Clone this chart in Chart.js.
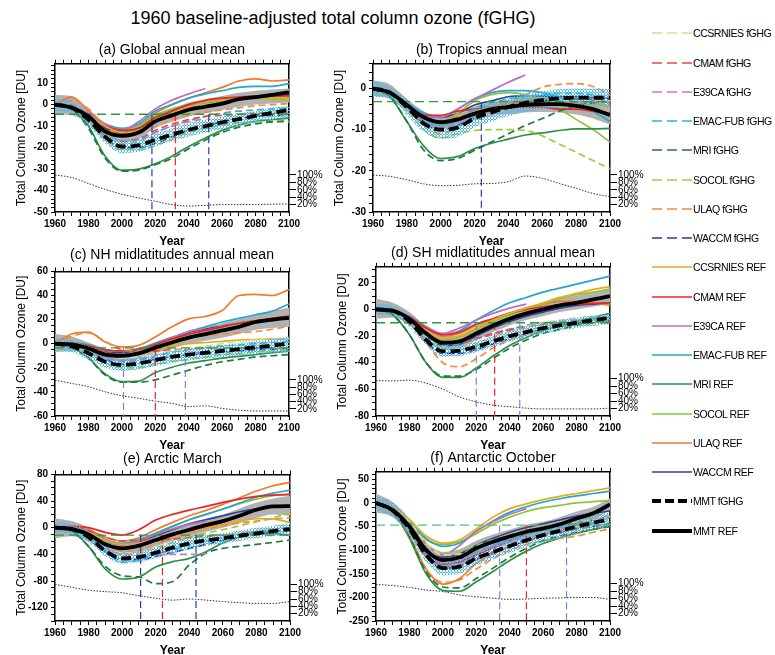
<!DOCTYPE html>
<html>
<head>
<meta charset="utf-8">
<title>1960 baseline-adjusted total column ozone (fGHG)</title>
<script src="https://cdn.jsdelivr.net/npm/chart.js@4.4.1/dist/chart.umd.min.js"></script>
<style>
  html, body { margin: 0; padding: 0; background: #fff; }
  body { width: 775px; height: 655px; overflow: hidden; position: relative; font-family: "Liberation Sans", Arial, sans-serif; }
  #wrap { position: absolute; left: 0; top: 0; width: 775px; height: 655px; }
  #wrap canvas { position: absolute; }
  #title { position: absolute; left: 0; top: 7px; width: 666px; text-align: center; font-size: 18px; line-height: 22px; color: #000; }
  .leg { position: absolute; left: 652px; width: 123px; height: 14px; font-size: 10.5px; line-height: 14px; letter-spacing: -0.45px; white-space: nowrap; color: #000; }
  .leg svg { position: absolute; left: 0; top: 0; }
  .leg span { position: absolute; left: 41px; top: 0; }
</style>
</head>
<body>
<div id="wrap"><div id="title">1960 baseline-adjusted total column ozone (fGHG)</div></div>
<div id="legend"></div>
<script>
const years = [1960, 1970, 1980, 1990, 2000, 2010, 2020, 2030, 2040, 2050, 2060, 2070, 2080, 2090, 2100];
const models = ["CCSRNIES", "CMAM", "E39CA", "EMAC-FUB", "MRI", "SOCOL", "ULAQ", "WACCM"];
const fghgColors = ["#ecd48a", "#e8484a", "#c57ac6", "#2cb2d8", "#1f7a3c", "#9ccc3c", "#f58a3c", "#2a3d8f"];
const refColors = ["#e2ad1c", "#e8262a", "#c06cc0", "#26a6cc", "#2e9048", "#8cc43a", "#f07a2a", "#2f4390"];
const pctTicks = [20, 40, 60, 80, 100];
const _ = null;

// (a) Global annual mean
const aFghg = [
  [0, -1, -6, -13, -18, -18, -16, -13, -11, -9, -7, -5.5, -4.5, -3.5, -3],
  [0, -1, -7, -14, -17, -16, -12, -9, -7, -5.5, -5, -4.5, -4, -4, -4],
  [0, -1, -6, -13, -17, -16, -13, -10, -8, -6.5, _, _, _, _, _],
  [0, -1, -7, -14, -18, -17, -13, -10, -7.5, -5.5, -4, -3, -2.5, -2, -1.5],
  [0, -2, -11, -25, -31, -30.5, -28, -25, -20.5, -16.5, -13, -10.5, -9, -8, -7.5],
  [0, -1.5, -8, -16, -21, -21, -19, -16, -13, -11, -9.5, -8.5, -8, -8, -8],
  [0, 2, -2, -10, -14, -13, -10, -7, -5, -3.5, -2.5, -1.5, -0.5, 0, 0.5],
  [0, -1.5, -8, -16, -20, -20, -18, -15, -12, -10, -8, -6.5, -5.5, -5, -4.5]
];
const aRef = [
  [0, -1, -5, -10, -13, -12, -7, -4, -1, 1, 2, 2.5, 3, 3, 3],
  [0, -0.5, -6, -10, -12, -11, -6, -3, 0, 2, 3, 3.5, 4, 4, 4],
  [0, -1, -4, -9, -12, -8, -2, 2, 5, 7.5, _, _, _, _, _],
  [0, -1, -5, -9, -11, -9, -3, 0, 3, 5, 6.5, 8, 8.5, 8.5, 9.8],
  [0, -1.8, -10, -24, -30.5, -30, -27.5, -24, -19.5, -15.5, -12, -9.5, -7.8, -7, -6.3],
  [0, -1, -5, -10, -12, -10, -5, -2, 0, 1.5, 2.5, 3, 3, 2.5, 2],
  [0, 3.5, -3, -9, -11.5, -10, -4, 0, 3, 5.5, 8, 11, 12, 11, 11.5],
  [0, -1.5, -6, -11, -13, -11, -7, -3, 0, 1, 2, 3, 3.5, 4, 4.5]
];
const aMmtFghg = [0, -1.5, -7, -15, -19.5, -19, -16.4, -14, -11.7, -10, -8.3, -6.8, -5.2, -3.8, -2.4];
const aMmtRef = [0, -1.5, -5.5, -12.5, -14.5, -13, -7.8, -5, -2.4, -1, 0.5, 2.5, 3.5, 4.5, 5.7];
const aGreyLo = [-4.5, -5, -8.5, -15.5, -17.5, -16, -11, -8, -5.5, -4, -2.5, -1, 0, 0.5, 1];
const aGreyHi = [4.5, 4, -2, -9, -11.5, -10, -4.5, -2, 1, 2.5, 4, 5.5, 6.5, 7, 7.5];
const aDotLo = [-3, -4, -10, -18, -22.5, -22, -19.5, -17, -15, -13, -11.5, -10, -8.5, -7, -6];
const aDotHi = [3, 1.5, -4, -12, -16.5, -16, -13.5, -11, -8.5, -7, -5.5, -4, -3, -1.5, -0.5];
const aPct = [100, 93, 77, 61, 48, 38, 29, 20, 16, 18, 20, 20, 20, 21, 22];
const aBase = -4.5;
const aReturn = [2018, 2032, 2052];

// (b) Tropics annual mean
const bFghg = [
  [0, -1, -5, -9, -10.5, -9.5, -7.5, -6, -5, -4, -3.5, -3, -3, -3, -3],
  [0, -1, -4.5, -7.5, -8, -7, -6, -5, -4.5, -4, -3.5, -3.3, -3.2, -3.2, -3.2],
  [0, -1, -4.5, -8, -9.5, -8.5, -6.5, -5, -4, -3, _, _, _, _, _],
  [0, -1, -4, -7.5, -9, -7.5, -5, -3.5, -2.5, -2, -1.5, -1.2, -1.2, -1.5, -2],
  [0, -2, -8, -15, -17.5, -17, -15, -13, -11, -9, -7.3, -5.5, -4.2, -3.5, -3.2],
  [0, -1, -5, -10, -12, -11, -10.2, -10, -10, -10.2, -11.5, -13.5, -15.5, -17.5, -19.5],
  [0, -1, -5, -9, -11, -9.5, -7.5, -5.5, -3.5, -1.5, 0.3, 1, 1.2, 0.5, -1.6],
  [0, -1, -4.5, -8.5, -10, -9, -7, -5.5, -4.2, -3.5, -3, -2.7, -2.5, -2.5, -2.5]
];
const bRef = [
  [0, -1, -4, -7, -8, -7, -5.5, -4.5, -4, -3.5, -3.5, -3.5, -3.7, -4, -4.5],
  [0, -1, -4, -6.5, -6.5, -5.5, -5, -4.5, -4.5, -4.5, -4.5, -5, -5, -5.5, -6],
  [0, -1, -4, -6.5, -7, -5, -2.5, -0.5, 1.5, 3.3, _, _, _, _, _],
  [0, -1, -3.5, -6, -7, -5, -2.5, -1, -0.5, -0.5, -1, -2, -3.5, -5.5, -8],
  [0, -2, -8, -14, -17, -16.5, -14.6, -13.3, -12.3, -11.3, -10.8, -10.2, -9.8, -9.8, -9.7],
  [0, -1, -4, -7, -8, -6, -3, -1.5, -1, -1.5, -3, -5, -7.5, -10, -13],
  [0, -1, -4.5, -8, -9, -8, -6, -4.5, -3.5, -3, -2.5, -2.3, -2.3, -2.5, -3.5],
  [0, -1, -4, -6.5, -7, -6, -4, -3, -2, -1.8, -1.8, -2, -2, -2.2, -2.4]
];
const bMmtFghg = [0, -1, -4.5, -8.5, -10, -9.5, -7.2, -5.8, -4.5, -3.5, -2.8, -2.4, -2.2, -2.2, -2.3];
const bMmtRef = [0, -1, -4, -7, -8.2, -7.5, -6.1, -5, -4.5, -4, -3.8, -3.8, -4.2, -5, -6.5];
const bGreyLo = [-1.8, -2.5, -5.5, -8.5, -9.8, -9.2, -7.8, -6.7, -6.2, -5.8, -5.7, -5.8, -6.3, -7.3, -8.8];
const bGreyHi = [2, 1, -2.5, -5.5, -6.6, -5.8, -4.4, -3.3, -2.8, -2.2, -1.9, -1.8, -2.1, -2.7, -4.2];
const bDotLo = [-2, -2.5, -6.5, -10.5, -12.2, -11.7, -9.4, -8, -6.7, -5.7, -5, -4.6, -4.4, -4.4, -4.5];
const bDotHi = [2, 0.5, -2.5, -6.5, -7.8, -7.3, -5, -3.6, -2.3, -1.3, -0.6, -0.2, 0, 0, -0.1];
const bPct = [100, 96, 87, 76, 71, 72, 76, 77, 82, 97, 91, 77, 64, 50, 41];
const bBase = -3.2;
const bReturn = [2024];

// (c) NH midlatitudes annual mean
const cFghg = [
  [0, -1, -5, -10, -12, -11, -8, -6, -4, -2, 0, 2, 3, 4, 4.5],
  [0, 0, -3, -7, -9, -8, -6, -5, -4.5, -4, -4, -4, -4, -4, -4],
  [0, -1, -5, -11, -15, -14, -12, -10, -8, -7, _, _, _, _, _],
  [0, -1, -5, -11, -14, -13, -10, -7, -5, -3, -2, -1, 0, 1, 2],
  [0, -3, -12, -26, -32, -32, -30, -26, -22, -18, -15, -13, -11, -10, -9],
  [0, -2, -8, -16, -20, -20, -17, -15, -13, -11, -9, -8, -7, -6, -5],
  [0, 6, 9, 2, -5, -6, -2, 2, 5, 7, 8, 9, 10, 12, 14.5],
  [0, -1, -6, -13, -17, -16, -13, -11, -9, -8, -7, -6, -5, -4.5, -4]
];
const cRef = [
  [0, -1, -4, -8, -9, -8, -5, -2, 0, 1, 2, 3, 3.5, 4, 4],
  [0, 0, -2, -5, -6, -5, -1, 4, 8, 11, 14, 17, 19, 21, 23],
  [0, -1, -4, -8, -9, -6, -1, 5, 10, 13, _, _, _, _, _],
  [0, 1, -1, -5, -6, -4, 0, 5, 10, 14, 18, 21, 24, 27, 33],
  [0, -3, -12, -25, -31.5, -31, -24, -19.5, -16, -14, -12, -10.5, -9, -7.5, -6],
  [0, -1, -5, -9, -10, -8, -3, 3, 8, 11, 14, 17, 19, 20, 21],
  [0, 8, 9.6, 1.4, -2.7, -1.4, 5.5, 14, 20.6, 22.6, 27.5, 40, 41, 40, 45],
  [0, -0.5, -3, -7, -7.5, -5, 0, 5, 9, 12, 14.5, 17, 19, 20, 22]
];
const cMmtFghg = [0, -2, -8, -15, -17.5, -16.5, -13.5, -11, -9, -7.5, -6, -4.5, -3, -1.5, 0];
const cMmtRef = [0, -0.5, -4, -9, -10, -8, -3.3, 1, 5, 8, 11, 14, 18, 20, 21.5];
const cGreyLo = [-7, -6, -9, -14, -14.5, -12.5, -8, -4, 0, 2.5, 5, 8, 11.5, 13, 14];
const cGreyHi = [8, 6, 1, -4, -5.5, -3.5, 1.5, 6, 10, 13.5, 17, 20, 24, 27, 30];
const cDotLo = [-6, -7, -13, -20, -22.5, -21.5, -18.5, -16, -14, -12.5, -11, -10, -9, -8, -7.5];
const cDotHi = [5, 3, -3, -10, -12.5, -11.5, -8.5, -6, -4, -2.5, -1, 0.5, 2, 4, 6];
const cPct = [99, 90, 81, 67, 56, 49, 41, 35, 26, 28, 21, 16, 14, 14, 14];
const cBase = -3.5;
const cReturn = [2001, 2020, 2038];

// (d) SH midlatitudes annual mean
const dFghg = [
  [0, -1, -8, -20, -28, -28, -25, -21, -17, -13, -10, -8, -6.5, -5.5, -5],
  [0, -1, -7, -18, -25, -25, -22, -18, -15, -13, -11, -10, -9.5, -9, -9],
  [0, -1, -7, -18, -26, -25, -22, -19, -16, -14, _, _, _, _, _],
  [0, -1, -7, -18, -27, -26, -22, -18, -15, -12, -10, -9, -8, -7, -6],
  [0, -4, -19, -40, -50, -50, -45, -37, -29, -23, -18, -15, -12, -10, -8],
  [0, -1, -8, -21, -30, -30, -27, -23, -19, -16, -13, -11, -9, -8, -7],
  [0, 0, -9, -25, -40, -43, -37, -29, -23, -19, -15, -13, -11.5, -10, -9],
  [0, -1, -9, -24, -33, -33, -30, -26, -22, -18, -15, -12.5, -10.5, -9, -8]
];
const dRef = [
  [0, -1, -7, -16, -22, -20, -14, -8, -3, 1, 5, 9, 12, 15, 17],
  [0, -1, -6, -14, -19, -17, -11, -7, -3, 0, 2, 3.5, 4, 4.5, 5],
  [0, -1, -5, -13, -18, -14, -8, -3, 1, 4, _, _, _, _, _],
  [0, -1, -5, -13, -19, -16, -8, -1, 5, 9, 13, 16, 19, 22, 25],
  [0, -4, -19, -40, -51, -51, -44, -35, -27, -21, -16, -12, -9, -6, -3],
  [0, -1, -6, -16, -23, -21, -15, -9, -4, 0, 4, 8, 11, 13, 15],
  [0, 0, -6, -14, -20, -18, -12, -7, -3, 1, 4, 6, 6, 5, 3],
  [0, -1, -8, -20, -27, -26, -20, -14, -9, -5, -2, 1, 3, 4, 5]
];
const dMmtFghg = [0, -1, -9, -23, -31.5, -31, -28, -24, -20, -17, -14, -12, -10, -8, -6.4];
const dMmtRef = [0, -1, -7, -18, -25, -24, -18, -12, -7, -3, 0, 3, 5, 7.5, 10];
const dGreyLo = [-7, -6, -12, -23, -30, -29, -23, -17, -12, -8, -5, -2, 0, 2, 4];
const dGreyHi = [8, 5, -2, -13, -20, -19, -13, -7, -2, 2, 5, 8, 10.5, 13, 16];
const dDotLo = [-4, -5, -13, -27, -35.5, -35, -32, -28, -24, -21, -18, -16, -14, -12.5, -11];
const dDotHi = [4, 3, -5, -19, -27.5, -27, -24, -20, -16, -13, -10, -8, -6, -4.5, -3];
const dPct = [95, 94, 96, 88, 72, 51, 38, 29, 25, 21, 19, 19, 19, 19, 21];
const dBase = -10;
const dReturn = [2020, 2031, 2046];

// (e) Arctic March
const eFghg = [
  [0, -1, -9, -26, -38, -37, -32, -27, -22, -17, -12, -8, -4, -1, 1],
  [0, 1, -4, -14, -20, -18, -18, -17, -15, -13, -11, -9, -7, -6, -5],
  [0, -1, -10, -28, -40, -40, -40, -40, -40, -39, _, _, _, _, _],
  [0, -1, -12, -35, -52, -48, -40, -33, -26, -20, -15, -10, -6, -3, 0],
  [0, -5, -28, -58, -72, -74, -84, -81, -56, -38, -31, -28, -25, -22, -18.5],
  [0, -1, -10, -28, -40, -38, -30, -22, -14, -8, -3, 3, 9, 15, 22],
  [0, 0, -8, -25, -36, -34, -25, -16, -8, -2, 3, 7, 10, 13, 15],
  [0, -2, -14, -36, -48, -48, -43, -37, -31, -25, -19, -14, -10, -6, -3]
];
const eRef = [
  [0, -1, -7, -19, -25, -23, -17, -11, -5, 0, 5, 10, 13.5, 13, 8],
  [0, 2, 0, -7, -11, -3, 11.5, 20, 26.5, 32, 38, 43, 47, 49, 50],
  [0, -1, -8, -20, -26, -20, -10, -2, 5, 10, _, _, _, _, _],
  [0, -1, -6, -18, -24, -18, -8, 2, 12, 20, 28, 37, 46, 52, 56],
  [0, -5, -28, -62, -77, -74, -59, -51, -46, -36, -23, -14, -8.5, -9, -11],
  [0, -1, -6, -18, -25, -20, -9, 2, 12, 20, 28, 36, 43, 48, 50],
  [0, 0, -4, -14, -20, -15, -3, 8, 18, 26, 35, 45, 55, 63, 68],
  [0, -1, -8, -20, -25, -21, -12, -3, 6, 12, 18, 24, 28, 32, 33]
];
const eMmtFghg = [0, -2, -14, -35, -46, -44, -37.5, -30, -23.5, -19, -16, -12, -8.5, -5, -2];
const eMmtRef = [0, -2, -10, -25, -31, -27, -18.5, -10, -3, 4, 10, 18, 27, 32, 32.5];
const eGreyLo = [-16, -13, -20, -35, -40, -37, -28, -20, -13, -6, 0, 7, 15, 20, 18];
const eGreyHi = [14, 10, 0, -15, -22, -17, -9, 0, 7, 14, 20, 29, 38, 44, 48];
const eDotLo = [-8, -10, -22, -43, -54, -52, -46, -39, -32, -27, -24, -20, -16, -13, -12];
const eDotHi = [8, 6, -6, -27, -38, -36, -29, -21, -15, -11, -8, -4, 0, 3, 8];
const ePct = [100, 92, 84, 80, 77, 69, 62, 57, 60, 57, 53, 50, 48, 48, 53];
const eBase = -11;
const eReturn = [2011, 2024, 2044];

// (f) Antarctic October
const fFghg = [
  [0, -12, -40, -85, -110, -108, -95, -82, -70, -60, -52, -46, -40, -35, -30],
  [0, -15, -55, -112, -135, -132, -118, -105, -92, -80, -70, -62, -55, -50, -45],
  [0, -13, -48, -100, -125, -120, -105, -92, -80, -70, _, _, _, _, _],
  [0, -13, -45, -95, -120, -118, -104, -90, -78, -66, -58, -52, -46, -42, -38],
  [0, -18, -72, -145, -178, -180, -160, -138, -115, -96, -80, -70, -62, -56, -50],
  [0, -12, -42, -88, -105, -102, -90, -78, -68, -58, -50, -45, -40, -36, -32],
  [0, -20, -72, -140, -168, -163, -140, -118, -100, -88, -80, -75, -70, -62, -55],
  [0, -15, -52, -110, -138, -136, -120, -105, -92, -80, -70, -62, -55, -49, -44]
];
const fRef = [
  [0, -10, -35, -70, -85, -78, -55, -30, -12, -2, 7, 14, 20, 26, 32],
  [0, -15, -55, -110, -130, -125, -110, -95, -80, -65, -55, -48, -42, -36, -28],
  [0, -12, -45, -88, -110, -90, -60, -40, -24, -12, _, _, _, _, _],
  [0, -12, -40, -75, -92, -85, -60, -38, -20, -8, 2, 9, 15, 20, 25],
  [0, -18, -75, -150, -185, -187, -167, -145, -122, -102, -86, -74, -64, -56, -48],
  [0, -12, -40, -78, -88, -82, -65, -45, -30, -18, -10, -5, 0, 3, 5],
  [0, -20, -70, -140, -172, -160, -128, -108, -92, -80, -68, -58, -48, -42, -30],
  [0, -15, -50, -100, -115, -108, -90, -75, -62, -52, -44, -36, -28, -22, -17]
];
const fMmtFghg = [0, -16, -55, -110, -138, -135, -117, -104, -91, -79, -68, -59, -50, -42, -35];
const fMmtRef = [0, -15, -50, -100, -121, -115, -96, -82, -71, -61, -54, -45, -33, -22, -3];
const fGreyLo = [-20, -30, -68, -118, -138, -132, -112, -97, -86, -76, -68, -60, -48, -36, -15];
const fGreyHi = [20, 2, -33, -82, -104, -98, -80, -67, -56, -46, -40, -30, -18, -8, 10];
const fDotLo = [-15, -30, -70, -125, -153, -150, -132, -119, -106, -94, -83, -74, -65, -57, -50];
const fDotHi = [15, 0, -40, -95, -123, -120, -102, -89, -76, -64, -53, -44, -35, -27, -20];
const fPct = [98, 95, 90, 83, 79, 70, 65, 61, 58, 59, 61, 62, 63, 63, 58];
const fBase = -47;
const fReturn = [2034, 2050, 2074];

const panels = [
  { title: "(a) Global annual mean", fghg: aFghg, ref: aRef, mmtF: aMmtFghg, mmtR: aMmtRef, grey: [aGreyLo, aGreyHi], dots: [aDotLo, aDotHi], pct: aPct, base: aBase, ret: aReturn,
    yMin: -50, yMax: 19, major: 10, minor: 2, area: [55, 64, 289, 212], titleY: 51, retBlue: "#24409c", baseColor: "#2e9a3c" },
  { title: "(b) Tropics annual mean", fghg: bFghg, ref: bRef, mmtF: bMmtFghg, mmtR: bMmtRef, grey: [bGreyLo, bGreyHi], dots: [bDotLo, bDotHi], pct: bPct, base: bBase, ret: bReturn,
    yMin: -30, yMax: 6, major: 10, minor: 2, area: [373, 64, 610, 212], titleY: 51, retBlue: "#24409c", baseColor: "#2e9a3c" },
  { title: "(c) NH midlatitudes annual mean", fghg: cFghg, ref: cRef, mmtF: cMmtFghg, mmtR: cMmtRef, grey: [cGreyLo, cGreyHi], dots: [cDotLo, cDotHi], pct: cPct, base: cBase, ret: cReturn,
    yMin: -60, yMax: 60, major: 20, minor: 5, area: [55, 271, 289, 416], titleY: 255, retBlue: "#7488cc", baseColor: "#2e9a3c" },
  { title: "(d) SH midlatitudes annual mean", fghg: dFghg, ref: dRef, mmtF: dMmtFghg, mmtR: dMmtRef, grey: [dGreyLo, dGreyHi], dots: [dDotLo, dDotHi], pct: dPct, base: dBase, ret: dReturn,
    yMin: -80, yMax: 32, major: 20, minor: 5, area: [376, 267, 610, 416], titleY: 255, retBlue: "#7488cc", baseColor: "#2e9a3c" },
  { title: "(e) Arctic March", fghg: eFghg, ref: eRef, mmtF: eMmtFghg, mmtR: eMmtRef, grey: [eGreyLo, eGreyHi], dots: [eDotLo, eDotHi], pct: ePct, base: eBase, ret: eReturn,
    yMin: -140, yMax: 80, major: 40, minor: 10, area: [55, 474, 290, 621], titleY: 459, retBlue: "#24409c", baseColor: "#2e9a3c" },
  { title: "(f) Antarctic October", fghg: fFghg, ref: fRef, mmtF: fMmtFghg, mmtR: fMmtRef, grey: [fGreyLo, fGreyHi], dots: [fDotLo, fDotHi], pct: fPct, base: fBase, ret: fReturn,
    yMin: -250, yMax: 66, major: 50, minor: 10, area: [376, 472, 610, 621], titleY: 459, retBlue: "#7488cc", baseColor: "#5cbf7a" }
];

Chart.defaults.font.family = '"Liberation Sans", Arial, sans-serif';
Chart.defaults.color = "#000";

const pts = (vals) => years.map((x, i) => ({ x: x, y: vals[i] }));

function dotPattern(ctx) {
  const c = document.createElement("canvas");
  c.width = 3; c.height = 3;
  const g = c.getContext("2d");
  g.fillStyle = "#45b6ea";
  [[1, 0], [0, 1], [2, 1], [1, 2]].forEach(([x, y]) => g.fillRect(x, y, 1, 1));
  return ctx.createPattern(c, "repeat");
}

function lineSet(vals, color, width, dash, order, axis) {
  return {
    data: pts(vals), xAxisID: "x", yAxisID: axis || "y",
    borderColor: color, borderWidth: width, borderDash: dash || [],
    pointRadius: 0, fill: false, order: order,
    cubicInterpolationMode: "monotone", spanGaps: false
  };
}

function makePanel(p) {
  const [L, T, R, B] = p.area;
  const yW = 55, rW = 35, xH = 38, topH = 5, padTop = 2;
  const padBot = Math.max(0, T - p.titleY - 13.4);
  const cTop = T - topH - 16.8 - padBot - padTop;
  const canvas = document.createElement("canvas");
  canvas.width = yW + (R - L) + rW;
  canvas.height = Math.round(B + xH - cTop);
  canvas.style.left = (L - yW) + "px";
  canvas.style.top = cTop + "px";
  document.getElementById("wrap").appendChild(canvas);
  const ctx = canvas.getContext("2d");

  const ds = [];
  // grey band (REF spread)
  ds.push({ data: pts(p.grey[0]), xAxisID: "x", yAxisID: "y", borderWidth: 0, pointRadius: 0, fill: false, order: 30, cubicInterpolationMode: "monotone" });
  ds.push({ data: pts(p.grey[1]), xAxisID: "x", yAxisID: "y", borderWidth: 0, pointRadius: 0, fill: "-1", backgroundColor: "#b2b2b2", order: 30, cubicInterpolationMode: "monotone" });
  // dotted blue band (fGHG spread)
  ds.push({ data: pts(p.dots[0]), xAxisID: "x", yAxisID: "y", borderWidth: 0, pointRadius: 0, fill: false, order: 9, cubicInterpolationMode: "monotone" });
  ds.push({ data: pts(p.dots[1]), xAxisID: "x", yAxisID: "y", borderWidth: 0, pointRadius: 0, fill: "-1", backgroundColor: dotPattern(ctx), order: 9, cubicInterpolationMode: "monotone" });

  p.ref.forEach((vals, i) => ds.push(lineSet(vals, refColors[i], 1.7, [], 12)));
  p.fghg.forEach((vals, i) => ds.push(lineSet(vals, fghgColors[i], 1.7, [7, 4], 11)));

  // baseline and return-date lines
  ds.push({ data: [{ x: years[0], y: p.base }, { x: years[years.length - 1], y: p.base }], xAxisID: "x", yAxisID: "y",
    borderColor: p.baseColor, borderWidth: 1.3, borderDash: [9, 5], pointRadius: 0, fill: false, order: 6, tension: 0 });
  const retColors = p.ret.length === 1 ? [p.retBlue] : [p.retBlue, "#e8242a", p.retBlue];
  p.ret.forEach((yr, i) => ds.push({ data: [{ x: yr, y: p.base }, { x: yr, y: p.yMin }], xAxisID: "x", yAxisID: "y",
    borderColor: retColors[i], borderWidth: 1.2, borderDash: [7, 4], pointRadius: 0, fill: false, order: 5, tension: 0 }));

  ds.push(lineSet(p.pct, "#333", 1, [1.5, 1.5], 4, "yr"));
  ds.push(lineSet(p.mmtR, "#000", 3.8, [], 2));
  ds.push(lineSet(p.mmtF, "#000", 3.8, [10, 5], 1));

  const axisGrid = { drawOnChartArea: false, drawTicks: true, tickLength: 4, color: "#000", tickWidth: 1 };
  const axisBorder = { display: true, color: "#000", width: 1.5 };
  const tickFont = { size: 10, weight: "bold" };

  new Chart(ctx, {
    type: "line",
    data: { datasets: ds },
    options: {
      responsive: false, animation: false, events: [],
      layout: { padding: 0 },
      plugins: {
        legend: { display: false }, tooltip: { enabled: false },
        title: { display: true, text: p.title, fullSize: false, color: "#000",
          font: { size: 14, weight: "normal" }, padding: { top: padTop, bottom: padBot } }
      },
      scales: {
        x: { type: "linear", position: "bottom", min: 1960, max: 2100,
          ticks: { stepSize: 5, autoSkip: false, maxRotation: 0, padding: 2, font: tickFont, color: "#000",
            callback: (v) => (v % 20 === 0 ? String(v) : "") },
          grid: axisGrid, border: axisBorder,
          title: { display: true, text: "Year", color: "#000", font: { size: 12, weight: "bold" }, padding: { top: 0, bottom: 1 } },
          afterFit: (s) => { s.height = xH; } },
        x2: { type: "linear", position: "top", min: 1960, max: 2100,
          ticks: { stepSize: 5, autoSkip: false, display: false },
          grid: axisGrid, border: axisBorder,
          afterFit: (s) => { s.height = topH; } },
        y: { type: "linear", position: "left", min: p.yMin, max: p.yMax,
          ticks: { stepSize: p.minor, autoSkip: false, includeBounds: false, padding: 3, font: tickFont, color: "#000",
            callback: (v) => (Math.abs(v % p.major) < 1e-6 ? String(v) : "") },
          grid: axisGrid, border: axisBorder,
          title: { display: true, text: "Total Column Ozone [DU]", color: "#000", font: { size: 12, weight: "normal" }, padding: { top: 14, bottom: 0 } },
          afterFit: (s) => { s.width = yW; } },
        yr: { type: "linear", position: "right", min: 0, max: 400,
          afterBuildTicks: (s) => { s.ticks = pctTicks.map((v) => ({ value: v })); },
          ticks: { autoSkip: false, padding: 1, font: { size: 10 }, color: "#000", callback: (v) => v + "%" },
          grid: { drawOnChartArea: false, drawTicks: true, tickLength: 7, color: "#000" }, border: axisBorder,
          afterFit: (s) => { s.width = rW; } }
      }
    }
  });
}

panels.forEach(makePanel);

// shared legend
const legendItems = [];
models.forEach((m, i) => legendItems.push({ label: m + " fGHG", color: fghgColors[i], width: 1.7, dash: "10,5" }));
models.forEach((m, i) => legendItems.push({ label: m + " REF", color: refColors[i], width: 1.7, dash: "" }));
legendItems.push({ label: "MMT fGHG", color: "#000", width: 3.8, dash: "9,4" });
legendItems.push({ label: "MMT REF", color: "#000", width: 3.8, dash: "" });

const legendBox = document.getElementById("legend");
legendItems.forEach((item, i) => {
  const row = document.createElement("div");
  row.className = "leg";
  row.style.top = (33.3 + i * 29.25 - 7) + "px";
  row.innerHTML = '<svg width="40" height="14"><line x1="0" y1="7" x2="40" y2="7" stroke="' + item.color +
    '" stroke-width="' + item.width + '"' + (item.dash ? ' stroke-dasharray="' + item.dash + '"' : "") +
    '/></svg><span>' + item.label + "</span>";
  legendBox.appendChild(row);
});
</script>
</body>
</html>
